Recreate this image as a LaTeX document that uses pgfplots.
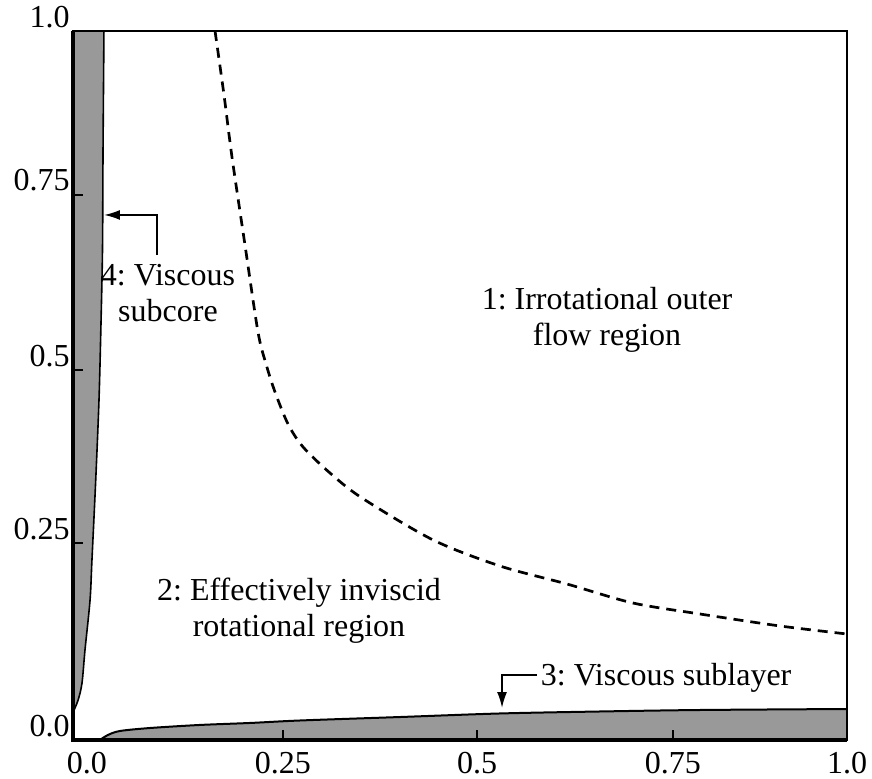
\documentclass[border=0pt]{standalone}
\usepackage{fontspec}
\setmainfont{Liberation Serif}
\usepackage{pgfplots}
\pgfplotsset{compat=1.18}
\usetikzlibrary{arrows.meta}
\definecolor{shade}{gray}{0.6}
\frenchspacing

\begin{document}
\begin{tikzpicture}
\begin{axis}[
  name=ax,
  width=387pt, height=354.5pt, scale only axis,
  xmin=0, xmax=1, ymin=0, ymax=1,
  axis on top,
  axis line style={line width=0.8pt},
  tick align=inside,
  major tick length=5pt,
  every tick/.style={black, line width=1.2pt},
  xtick={0.271,0.522,0.775}, xticklabels={0.25,0.5,0.75},
  ytick={0.278,0.522,0.769}, yticklabels={0.25,0.5,0.75},
  extra x ticks={0.018,1}, extra x tick labels={0.0,1.0},
  extra y ticks={0,1}, extra y tick labels={0.0,1.0},
  extra x tick style={major tick length=0pt},
  extra y tick style={major tick length=0pt},
  xtick pos=bottom, ytick pos=left,
  tick label style={font=\fontsize{16}{19}\selectfont},
  yticklabel style={anchor=south east, inner sep=1.5pt},
  xticklabel style={anchor=north, inner sep=1pt, yshift=-5pt},
  clip=false,
]

% region 4: viscous subcore along the axis
\addplot[fill=shade, draw=none] coordinates {
  (0,1) (0.040,1) (0.0388,0.832) (0.0381,0.691) (0.0360,0.580) (0.0336,0.480)
  (0.0295,0.370) (0.0245,0.254) (0.0220,0.197) (0.0155,0.127)
  (0.0116,0.080) (0.0065,0.056) (0,0.039)} -- cycle;
\addplot[black, line width=0.8pt, smooth] coordinates {
  (0.040,1) (0.0388,0.832) (0.0381,0.691) (0.0360,0.580) (0.0336,0.480)
  (0.0295,0.370) (0.0245,0.254) (0.0220,0.197) (0.0155,0.127)
  (0.0116,0.080) (0.0065,0.056) (0,0.039)};

% region 3: viscous sublayer along the wall
\addplot[fill=shade, draw=none] coordinates {
  (0.0349,0) (0.0452,0.0071) (0.0607,0.0127) (0.0995,0.0169) (0.164,0.0212)
  (0.2287,0.0240) (0.2933,0.0275) (0.4225,0.0324) (0.5517,0.0374)
  (0.6809,0.0402) (0.810,0.0423) (1.0,0.0437) (1.0,0)} -- cycle;
\addplot[black, line width=1pt, smooth] coordinates {
  (0.0349,0) (0.0452,0.0071) (0.0607,0.0127) (0.0995,0.0169) (0.164,0.0212)
  (0.2287,0.0240) (0.2933,0.0275) (0.4225,0.0324) (0.5517,0.0374)
  (0.6809,0.0402) (0.810,0.0423) (1.0,0.0437)};

% edge of the rotational region
\addplot[black, line width=1.35pt, dash pattern=on 5pt off 3.5pt, smooth] coordinates {
  (0.1835,1.0000) (0.1951,0.9097) (0.2054,0.8223) (0.2222,0.6982)
  (0.2390,0.5755) (0.2494,0.5303) (0.2610,0.4908) (0.2778,0.4457)
  (0.2972,0.4133) (0.3320,0.3766) (0.3734,0.3413) (0.4651,0.2822)
  (0.5517,0.2454) (0.6382,0.2200) (0.7235,0.1932) (0.8101,0.1777)
  (0.9134,0.1608) (1.0000,0.1495)};

% heavier wall and axis lines
\draw[line width=1.8pt] (rel axis cs:0,1) -- (rel axis cs:0,0) -- (rel axis cs:1,0);

% region labels
\node[align=center, font=\fontsize{16}{18}\selectfont] at (axis cs:0.690,0.592)
  {1: Irrotational outer\\flow region};
\node[align=center, font=\fontsize{16}{18}\selectfont] at (axis cs:0.292,0.183)
  {2: Effectively inviscid\\rotational region};
\node[align=center, font=\fontsize{16}{18}\selectfont, inner sep=0pt] at (axis cs:0.1227,0.630)
  {4: Viscous\\subcore};
\node[anchor=west, font=\fontsize{16}{18}\selectfont, inner sep=0pt] at (axis cs:0.604,0.0874)
  {3: Viscous sublayer};

% leaders
\draw[line width=0.9pt, -{Latex[length=8pt,width=5pt]}]
  (axis cs:0.1085,0.684) -- (axis cs:0.1085,0.7405) -- (axis cs:0.0400,0.7405);
\draw[line width=0.9pt, -{Latex[length=8pt,width=5pt]}]
  (axis cs:0.5995,0.0917) -- (axis cs:0.5543,0.0917) -- (axis cs:0.5543,0.0451);
\end{axis}
\pgfresetboundingbox
\path[use as bounding box] ([xshift=-36.5pt,yshift=-19.5pt]ax.south west)
  rectangle ([xshift=12.5pt,yshift=15.5pt]ax.north east);
\end{tikzpicture}
\end{document}
